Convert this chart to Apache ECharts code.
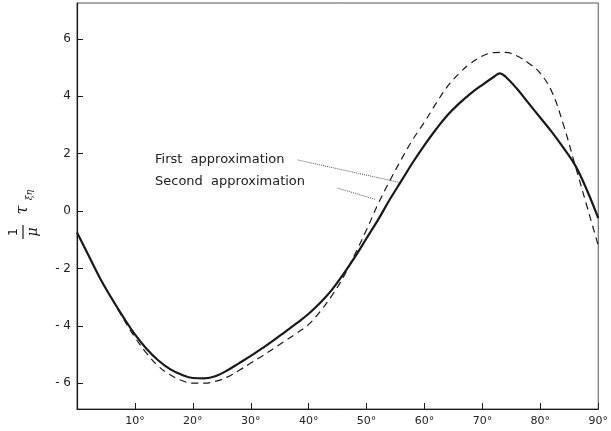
<!DOCTYPE html>
<html>
<head>
<meta charset="utf-8">
<script src="https://cdn.jsdelivr.net/npm/echarts@6/dist/echarts.min.js"></script>
<style>
  html, body { margin: 0; padding: 0; background: #fff; }
  #chart { width: 611px; height: 431px; }
</style>
</head>
<body>
<div id="chart"></div>
<script>
// angle in degrees
const xTicks = [10, 20, 30, 40, 50, 60, 70, 80, 90]
const yTicks = [-6, -4, -2, 0, 2, 4, 6]

// solid curve (first approximation)
const solidX = [0, 2, 4, 6, 8, 10, 12, 14, 16, 18, 20, 22, 24, 26, 28, 30, 32, 34, 36, 38, 40, 42, 44, 46, 48, 50, 52, 54, 56, 58, 60, 62, 64, 66, 68, 70, 72, 73, 74, 76, 78, 80, 82, 84, 86, 88, 90]
const solidY = [-0.75, -1.55, -2.35, -3.05, -3.7, -4.3, -4.8, -5.2, -5.5, -5.7, -5.82, -5.83, -5.75, -5.55, -5.3, -5.05, -4.78, -4.5, -4.2, -3.9, -3.58, -3.2, -2.75, -2.2, -1.6, -0.95, -0.3, 0.4, 1.05, 1.7, 2.3, 2.85, 3.35, 3.75, 4.1, 4.4, 4.68, 4.8, 4.68, 4.25, 3.75, 3.25, 2.75, 2.2, 1.6, 0.75, -0.25]

// dashed curve (second approximation)
const dashedX = [6, 8, 10, 12, 14, 16, 18, 20, 22, 24, 26, 28, 30, 32, 35, 38, 40, 42, 44, 46, 48, 50, 52, 54, 56, 58, 60, 62, 64, 66, 68, 70, 72, 74, 76, 78, 80, 82, 84, 86, 88, 89, 90]
const dashedY = [-3.05, -3.75, -4.4, -4.95, -5.4, -5.7, -5.9, -6.0, -6.0, -5.93, -5.78, -5.55, -5.3, -5.05, -4.65, -4.25, -3.95, -3.5, -2.95, -2.3, -1.5, -0.65, 0.25, 1.05, 1.8, 2.5, 3.1, 3.75, 4.35, 4.8, 5.15, 5.4, 5.52, 5.53, 5.4, 5.15, 4.8, 4.15, 3.0, 1.6, 0.2, -0.5, -1.2]

// leader lines from the labels to the curves: [startX, startY, endX, endY]
const firstLeader = [38.1, 1.78, 55.6, 1.0]
const secondLeader = [45.0, 0.8, 51.6, 0.4]

const zip = (xs, ys) => xs.map((x, i) => [x, ys[i]])

const chart = echarts.init(document.getElementById('chart'))
const ink = '#1a1a1a'
const option = {
  animation: false,
  backgroundColor: '#fff',
  grid: {
    left: 77,
    right: 12,
    top: 3,
    bottom: 22,
    show: true,
    borderColor: '#555',
    borderWidth: 1
  },
  xAxis: {
    type: 'value',
    min: 0,
    max: 90,
    interval: 10,
    splitLine: { show: false },
    axisLine: { onZero: false, lineStyle: { color: ink, width: 1.2 } },
    axisTick: { inside: true, length: 6, customValues: xTicks, lineStyle: { color: ink } },
    axisLabel: {
      customValues: xTicks,
      formatter: v => v + '°',
      color: '#222',
      fontSize: 11,
      fontFamily: 'DejaVu Sans',
      margin: 7
    }
  },
  yAxis: {
    type: 'value',
    min: -6.9,
    max: 7.25,
    splitLine: { show: false },
    axisLine: { onZero: false, lineStyle: { color: ink, width: 1.2 } },
    axisTick: { inside: true, length: 6, customValues: yTicks, lineStyle: { color: ink } },
    axisLabel: {
      customValues: yTicks,
      formatter: v => (v < 0 ? '- ' + Math.abs(v) : String(v)),
      color: '#222',
      fontSize: 12,
      fontFamily: 'DejaVu Sans',
      margin: 6
    }
  },
  series: [
    {
      name: 'First approximation',
      type: 'line',
      data: zip(solidX, solidY),
      smooth: 0.4,
      showSymbol: false,
      lineStyle: { color: ink, width: 2.2 },
      markLine: {
        silent: true,
        symbol: 'none',
        label: { show: false },
        lineStyle: { type: 'dotted', color: '#555', width: 1 },
        data: [
          [{ coord: [firstLeader[0], firstLeader[1]] }, { coord: [firstLeader[2], firstLeader[3]] }],
          [{ coord: [secondLeader[0], secondLeader[1]] }, { coord: [secondLeader[2], secondLeader[3]] }]
        ]
      }
    },
    {
      name: 'Second approximation',
      type: 'line',
      data: zip(dashedX, dashedY),
      smooth: 0.4,
      showSymbol: false,
      lineStyle: { color: ink, width: 1.2, type: [7, 5] }
    }
  ],
  graphic: [
    {
      type: 'text',
      left: 155,
      top: 153,
      style: { text: 'First  approximation', fill: '#222', font: '13px "DejaVu Sans"' }
    },
    {
      type: 'text',
      left: 155,
      top: 175,
      style: { text: 'Second  approximation', fill: '#222', font: '13px "DejaVu Sans"' }
    },
    {
      // y axis name: 1/μ τ_ξη, reading bottom to top
      type: 'group',
      x: 23,
      y: 232,
      rotation: Math.PI / 2,
      children: [
        { type: 'text', x: 0, y: -9, style: { text: '1', fill: ink, font: '13px "DejaVu Sans"', align: 'center', verticalAlign: 'middle' } },
        { type: 'line', shape: { x1: -7, y1: 0, x2: 7, y2: 0 }, style: { stroke: ink, lineWidth: 1.2 } },
        { type: 'text', x: 0, y: 10, style: { text: 'μ', fill: ink, font: 'italic 14px "DejaVu Serif"', align: 'center', verticalAlign: 'middle' } },
        { type: 'text', x: 22, y: 0, style: { text: 'τ', fill: ink, font: 'italic 16px "DejaVu Serif"', align: 'center', verticalAlign: 'middle' } },
        { type: 'text', x: 37, y: 7, style: { text: 'ξη', fill: ink, font: 'italic 9px "DejaVu Serif"', align: 'center', verticalAlign: 'middle' } }
      ]
    }
  ]
}
chart.setOption(option)
</script>
</body>
</html>
